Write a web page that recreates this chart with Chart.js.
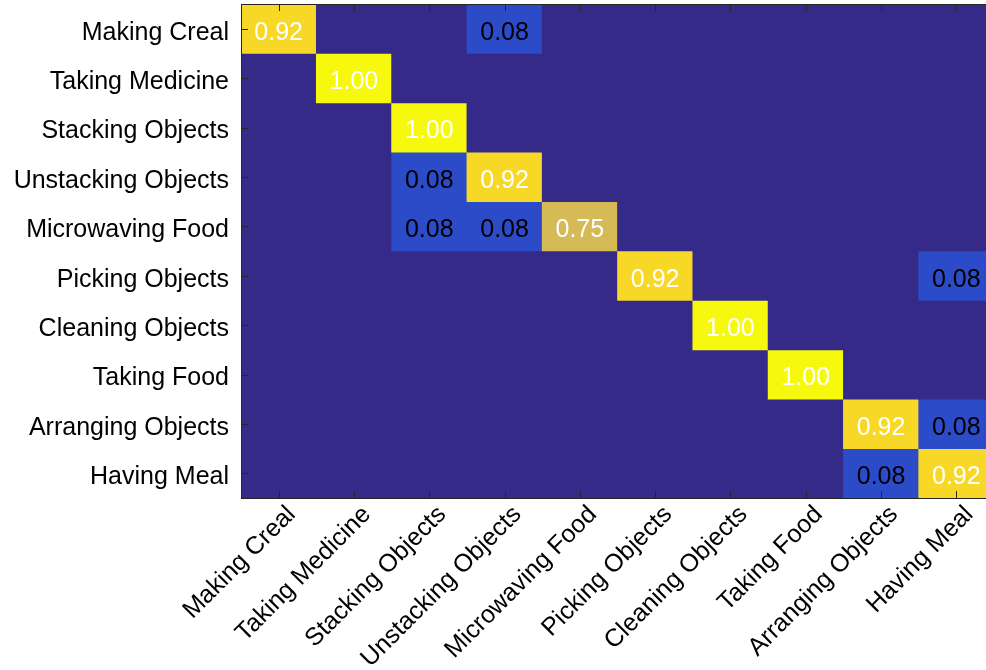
<!DOCTYPE html>
<html>
<head>
<meta charset="utf-8">
<script src="https://cdn.jsdelivr.net/npm/chart.js@4"></script>
<style>
  html, body { margin: 0; padding: 0; background: #fff; overflow: hidden; }
  canvas { display: block; }
</style>
</head>
<body>
<canvas id="graficoMatriz" width="1000" height="670"></canvas>
<script>
// classes (rows = true, columns = predicted)
const classes = ['Making Creal', 'Taking Medicine', 'Stacking Objects', 'Unstacking Objects',
  'Microwaving Food', 'Picking Objects', 'Cleaning Objects', 'Taking Food',
  'Arranging Objects', 'Having Meal'];

// one row per class
const rowMakingCreal      = [0.92, 0, 0, 0.08, 0, 0, 0, 0, 0, 0];
const rowTakingMedicine   = [0, 1.00, 0, 0, 0, 0, 0, 0, 0, 0];
const rowStackingObjects  = [0, 0, 1.00, 0, 0, 0, 0, 0, 0, 0];
const rowUnstacking       = [0, 0, 0.08, 0.92, 0, 0, 0, 0, 0, 0];
const rowMicrowaving      = [0, 0, 0.08, 0.08, 0.75, 0, 0, 0, 0, 0];
const rowPickingObjects   = [0, 0, 0, 0, 0, 0.92, 0, 0, 0, 0.08];
const rowCleaningObjects  = [0, 0, 0, 0, 0, 0, 1.00, 0, 0, 0];
const rowTakingFood       = [0, 0, 0, 0, 0, 0, 0, 1.00, 0, 0];
const rowArranging        = [0, 0, 0, 0, 0, 0, 0, 0, 0.92, 0.08];
const rowHavingMeal       = [0, 0, 0, 0, 0, 0, 0, 0, 0.08, 0.92];

const matriz = [rowMakingCreal, rowTakingMedicine, rowStackingObjects, rowUnstacking,
  rowMicrowaving, rowPickingObjects, rowCleaningObjects, rowTakingFood, rowArranging, rowHavingMeal];

const FONTE = '"Liberation Sans", Arial, sans-serif';
const NAVY = '#352a87';

// cor de cada célula conforme o valor
function corCelula(v) {
  if (v >= 0.99) return '#f6f90e';
  if (v >= 0.85) return '#f8d826';
  if (v >= 0.6) return '#d6ba55';
  if (v > 0) return '#2b4bc8';
  return NAVY;
}

// cada linha vira um dataset de barras flutuantes [linha, linha+1]
const datasets = matriz.map((linha, r) => ({
  label: classes[r],
  data: linha.map(() => [r, r + 1]),
  valores: linha,
  backgroundColor: linha.map(corCelula),
  borderWidth: 0,
  grouped: false,
  barPercentage: 1,
  categoryPercentage: 1
}));

// fundo, rótulos das células, moldura e ticks internos
const pluginMatriz = {
  id: 'pluginMatriz',
  beforeDatasetsDraw(chart) {
    const a = chart.chartArea;
    const ctx = chart.ctx;
    ctx.save();
    ctx.fillStyle = NAVY;
    ctx.fillRect(a.left, a.top, a.right - a.left, a.bottom - a.top);
    ctx.restore();
  },
  afterDatasetsDraw(chart) {
    const ctx = chart.ctx;
    ctx.save();
    ctx.font = '25px ' + FONTE;
    ctx.textAlign = 'center';
    ctx.textBaseline = 'middle';
    chart.data.datasets.forEach((ds, i) => {
      const meta = chart.getDatasetMeta(i);
      meta.data.forEach((el, j) => {
        const v = ds.valores[j];
        if (!v) return;
        const p = el.getCenterPoint();
        ctx.fillStyle = v > 0.5 ? '#ffffff' : '#000000';
        ctx.fillText(v.toFixed(2), p.x, p.y + 4);
      });
    });
    ctx.restore();
  },
  afterDraw(chart) {
    const a = chart.chartArea;
    const ctx = chart.ctx;
    const sx = chart.scales.x, sy = chart.scales.y;
    ctx.save();
    ctx.strokeStyle = '#262626';
    ctx.lineWidth = 1;
    ctx.beginPath();
    sx.ticks.forEach((t, i) => {
      const x = Math.round(sx.getPixelForTick(i)) + 0.5;
      ctx.moveTo(x, a.bottom); ctx.lineTo(x, a.bottom - 7);
      ctx.moveTo(x, a.top); ctx.lineTo(x, a.top + 7);
    });
    sy.ticks.forEach((t, i) => {
      const y = Math.round(sy.getPixelForTick(i)) + 0.5;
      ctx.moveTo(a.left, y); ctx.lineTo(a.left + 7, y);
      ctx.moveTo(a.right, y); ctx.lineTo(a.right - 7, y);
    });
    ctx.stroke();
    ctx.strokeRect(Math.round(a.left) + 0.5, Math.round(a.top) + 0.5,
      Math.round(a.right - a.left), Math.round(a.bottom - a.top));
    ctx.restore();
  }
};

const ctx = document.getElementById('graficoMatriz').getContext('2d');
window.graficoMatriz = new Chart(ctx, {
  type: 'bar',
  data: { labels: classes, datasets: datasets },
  options: {
    responsive: false,
    animation: false,
    layout: { padding: { top: 4, right: 6, left: 0, bottom: 0 } },
    plugins: {
      legend: { display: false },
      tooltip: { enabled: false }
    },
    scales: {
      x: {
        type: 'category',
        grid: { display: false, drawTicks: false },
        border: { display: false },
        ticks: {
          color: '#000',
          font: { family: FONTE, size: 25 },
          minRotation: 45,
          maxRotation: 45,
          autoSkip: false,
          padding: 2,
          labelOffset: 13
        },
        afterFit(scale) {
          scale.height = 172;
          scale.paddingLeft = 0;
          scale.paddingRight = 0;
        }
      },
      y: {
        type: 'linear',
        min: 0,
        max: 10,
        reverse: true,
        grid: { display: false, drawTicks: false },
        border: { display: false },
        afterBuildTicks(scale) {
          scale.ticks = classes.map((c, i) => ({ value: i + 0.5 }));
        },
        ticks: {
          color: '#000',
          font: { family: FONTE, size: 25 },
          padding: 12,
          labelOffset: 4,
          autoSkip: false,
          callback: (v, i) => classes[i]
        },
        afterFit(scale) {
          scale.width = 241;
          scale.paddingTop = 0;
          scale.paddingBottom = 0;
        }
      }
    }
  },
  plugins: [pluginMatriz]
});
</script>
</body>
</html>
